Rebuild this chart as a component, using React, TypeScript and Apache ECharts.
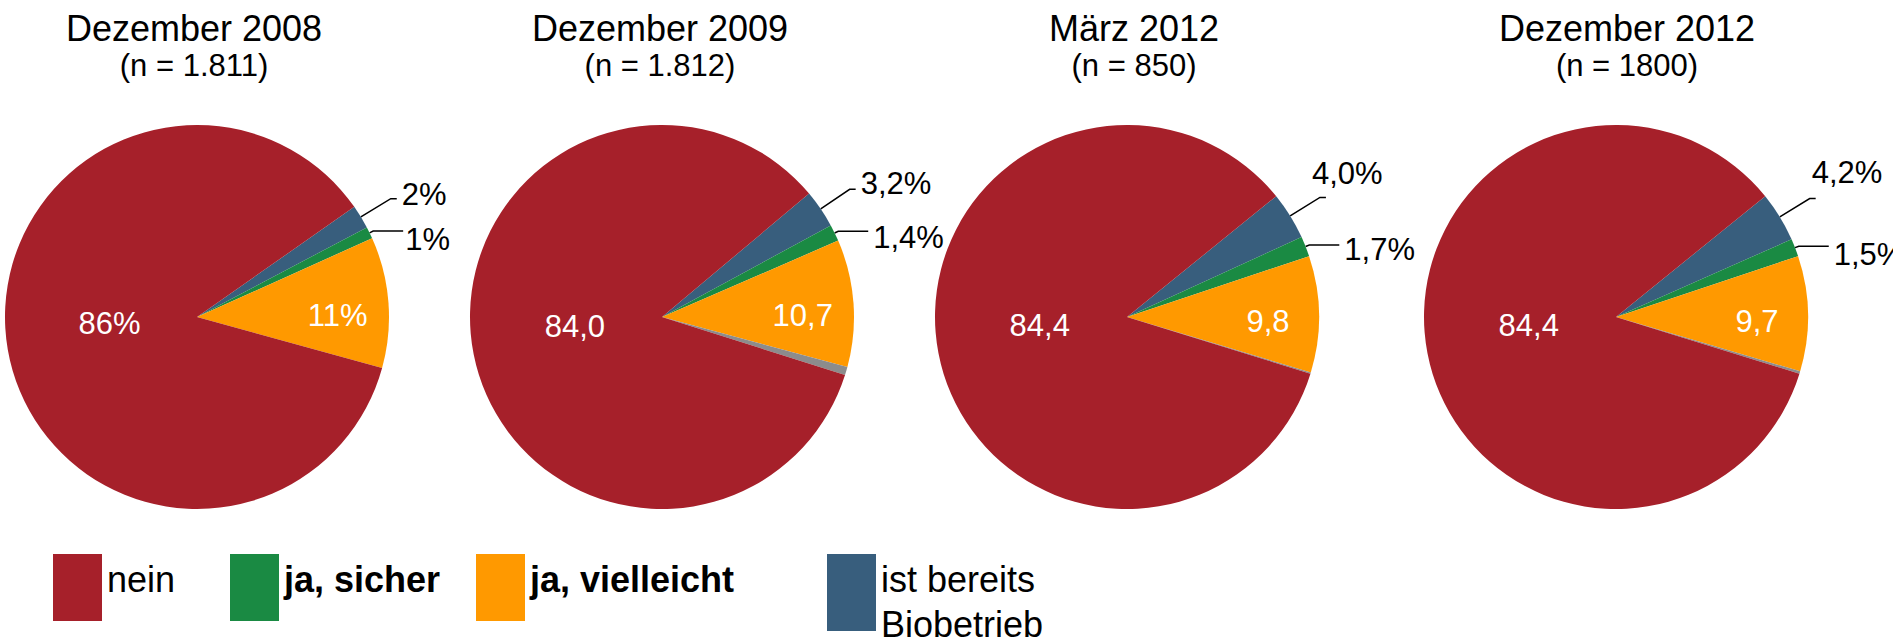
import React, { useEffect, useRef } from "react";
import * as echarts from "echarts";

// Categories in drawing order (clockwise from the start angle)
const categories = ["ist bereits Biobetrieb", "ja, sicher", "ja, vielleicht", "keine Angabe", "nein"];
const colors = ["#385E7D", "#1A8A43", "#FF9900", "#8C8C8C", "#A6202A"];

const titles = ["Dezember 2008", "Dezember 2009", "März 2012", "Dezember 2012"];
const sampleSizes = ["(n = 1.811)", "(n = 1.812)", "(n = 850)", "(n = 1800)"];

// values per survey, same order as categories
const values2008 = [2, 1, 11, 0, 86];
const values2009 = [3.2, 1.4, 10.7, 0.7, 84.0];
const valuesMar2012 = [4.0, 1.7, 9.8, 0.1, 84.4];
const valuesDec2012 = [4.2, 1.5, 9.7, 0.2, 84.4];
const surveys = [values2008, values2009, valuesMar2012, valuesDec2012];
const decimals = [0, 1, 1, 1];
const innerPercent = [true, false, false, false];

const legendOrder = ["nein", "ja, sicher", "ja, vielleicht", "ist bereits Biobetrieb"];

const FONT = "'Liberation Sans', Arial, Helvetica, sans-serif";

const centersX = [197, 662, 1127, 1616];
const titleX = [194, 660, 1134, 1627];
const startAngles = [35, 40, 39, 39];
// label nudges for the small outside slices [dx, dy]
const blueShift = [[0, -4], [0, -6], [-19, -24], [-9, -26]];
const greenShift = [[-3, 8], [0, 6], [0, 4], [0, 8]];

function fmt(v: number, d: number) {
  return v.toFixed(d).replace(".", ",");
}

export default function App() {
  const ref = useRef<HTMLDivElement>(null);
  useEffect(() => {
    if (!ref.current) return;
    const chart = echarts.init(ref.current, undefined, { renderer: "svg" });

    const series = surveys.map((vals, s) => ({
      type: "pie",
      center: [centersX[s], 317],
      radius: 192,
      startAngle: startAngles[s],
      clockwise: true,
      silent: true,
      avoidLabelOverlap: false,
      label: { fontSize: 31, fontFamily: FONT, color: "#000", overflow: "none", lineHeight: 32 },
      labelLine: { length: 18, length2: 8, lineStyle: { color: "#000", width: 1.5 } },
      labelLayout: (p: any) => {
        if (p.dataIndex === 0) return { dx: blueShift[s][0], dy: blueShift[s][1] };
        if (p.dataIndex === 1) return { dx: greenShift[s][0], dy: greenShift[s][1] };
        return {};
      },
      itemStyle: { borderWidth: 0 },
      emphasis: { disabled: true },
      data: categories.map((name, i) => {
        const inside = i === 2 || i === 4;
        const hidden = i === 3;
        return {
          name,
          value: vals[i],
          itemStyle: { color: colors[i] },
          label: hidden
            ? { show: false }
            : inside
            ? {
                show: true,
                position: "inside",
                color: "#fff",
                fontSize: 31,
                offset: i === 4 ? [10, -10] : [42, 6],
                formatter: () => fmt(vals[i], decimals[s]) + (innerPercent[s] ? "%" : ""),
              }
            : {
                show: true,
                position: "outside",
                overflow: "none",
                formatter: () => fmt(vals[i], decimals[s]) + "%",
              },
          labelLine:
            inside || hidden
              ? { show: false }
              : i === 0
              ? { show: true, length: 35, length2: 6 }
              : { show: true, length: 4, length2: 30 },
        };
      }),
    }));

    const title: any[] = [];
    titles.forEach((t, s) => {
      title.push({
        text: t,
        left: titleX[s],
        top: 8,
        textAlign: "center",
        padding: 0,
        textStyle: { fontSize: 36, fontWeight: "normal", fontFamily: FONT, color: "#000", lineHeight: 40 },
      });
      title.push({
        text: sampleSizes[s],
        left: titleX[s],
        top: 48,
        textAlign: "center",
        padding: 0,
        textStyle: { fontSize: 31, fontWeight: "normal", fontFamily: FONT, color: "#000", lineHeight: 34 },
      });
    });

    const legendLeft = [53, 230, 476, 827];
    const legend = legendOrder.map((name, k) => {
      const multi = k === 3;
      return {
        data: [name],
        left: legendLeft[k],
        top: multi ? 538 : 554,
        padding: 0,
        icon: "rect",
        itemWidth: 49,
        itemHeight: multi ? 77 : 67,
        selectedMode: false,
        formatter: multi ? () => "{s| }\n{t|ist bereits}\n{t|Biobetrieb}" : (n: string) => n + "\n ",
        textStyle: {
          fontSize: 36,
          fontFamily: FONT,
          color: "#000",
          fontWeight: k === 1 || k === 2 ? "bold" : "normal",
          lineHeight: 16,
          rich: {
            s: { fontSize: 10, lineHeight: 19 },
            t: { fontSize: 36, fontFamily: FONT, color: "#000", lineHeight: 45 },
          },
        },
      };
    });

    chart.setOption({
      animation: false,
      backgroundColor: "#fff",
      title,
      legend,
      series,
    } as any);

    return () => chart.dispose();
  }, []);

  return (
    <div
      ref={ref}
      style={{ position: "fixed", left: 0, top: 0, width: 1893, height: 642, background: "#fff" }}
    />
  );
}
